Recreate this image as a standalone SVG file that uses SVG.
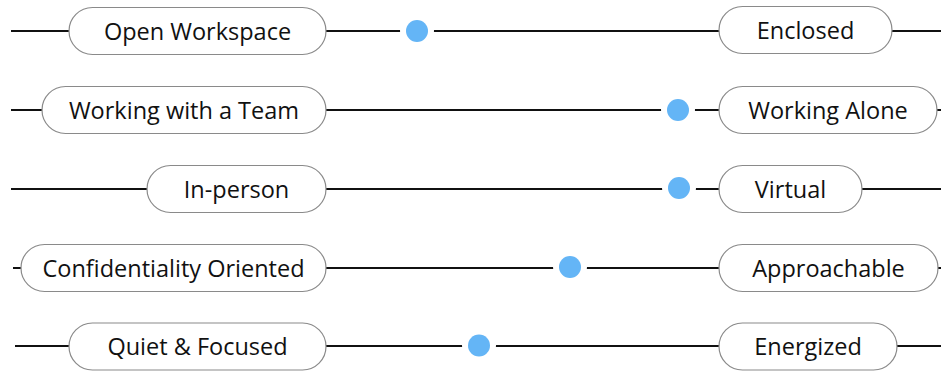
<svg xmlns="http://www.w3.org/2000/svg" width="941" height="371" viewBox="0 0 941 371">
<style>
.ln{stroke:#111;stroke-width:2.2;fill:none}
.pill{fill:#fff;stroke:#8a8a8a;stroke-width:1.2}
.lbl{font-family:"Open Sans","Noto Sans",sans-serif;font-size:23.5px;fill:#111;text-anchor:middle}
.halo{fill:#fff}
.dot{fill:#64b5f6}
</style>
<rect width="941" height="371" fill="#fff"/>
<g id="connectors">
<line class="ln" x1="11" y1="31" x2="941" y2="31"/>
<line class="ln" x1="11" y1="110" x2="941" y2="110"/>
<line class="ln" x1="11" y1="189" x2="941" y2="189"/>
<line class="ln" x1="13" y1="268" x2="941" y2="268"/>
<line class="ln" x1="15" y1="346" x2="941" y2="346"/>
</g>
<g id="row1">
<g id="open-workspace"><rect class="pill" x="69" y="7.5" width="257" height="47" rx="23.5"/><text class="lbl" x="197.5" y="39.5">Open Workspace</text></g>
<g id="dot1"><circle class="halo" cx="417" cy="31" r="17"/><circle class="dot" cx="417" cy="31" r="11"/></g>
<g id="enclosed"><rect class="pill" x="719" y="6.5" width="173" height="47" rx="23.5"/><text class="lbl" x="805.5" y="38.5">Enclosed</text></g>
</g>
<g id="row2">
<g id="working-team"><rect class="pill" x="42" y="86.5" width="284" height="47" rx="23.5"/><text class="lbl" x="184" y="118.5">Working with a Team</text></g>
<g id="dot2"><circle class="halo" cx="678" cy="110" r="17"/><circle class="dot" cx="678" cy="110" r="11"/></g>
<g id="working-alone"><rect class="pill" x="719" y="86.5" width="218" height="47" rx="23.5"/><text class="lbl" x="828" y="118.5">Working Alone</text></g>
</g>
<g id="row3">
<g id="in-person"><rect class="pill" x="147" y="165.5" width="179" height="47" rx="23.5"/><text class="lbl" x="236.5" y="197.5">In-person</text></g>
<g id="dot3"><circle class="halo" cx="679" cy="188" r="17"/><circle class="dot" cx="679" cy="188" r="11"/></g>
<g id="virtual"><rect class="pill" x="719" y="165.5" width="143" height="47" rx="23.5"/><text class="lbl" x="790.5" y="197.5">Virtual</text></g>
</g>
<g id="row4">
<g id="confidentiality"><rect class="pill" x="21" y="244.5" width="305" height="47" rx="23.5"/><text class="lbl" x="173.5" y="276.5">Confidentiality Oriented</text></g>
<g id="dot4"><circle class="halo" cx="570" cy="267" r="17"/><circle class="dot" cx="570" cy="267" r="11"/></g>
<g id="approachable"><rect class="pill" x="719" y="244.5" width="219" height="47" rx="23.5"/><text class="lbl" x="828.5" y="276.5">Approachable</text></g>
</g>
<g id="row5">
<g id="quiet"><rect class="pill" x="69" y="323" width="257" height="47" rx="23.5"/><text class="lbl" x="197.5" y="355">Quiet &amp; Focused</text></g>
<g id="dot5"><circle class="halo" cx="479" cy="345.5" r="17"/><circle class="dot" cx="479" cy="345.5" r="11"/></g>
<g id="energized"><rect class="pill" x="719" y="323" width="178" height="47" rx="23.5"/><text class="lbl" x="808" y="355">Energized</text></g>
</g>
</svg>
